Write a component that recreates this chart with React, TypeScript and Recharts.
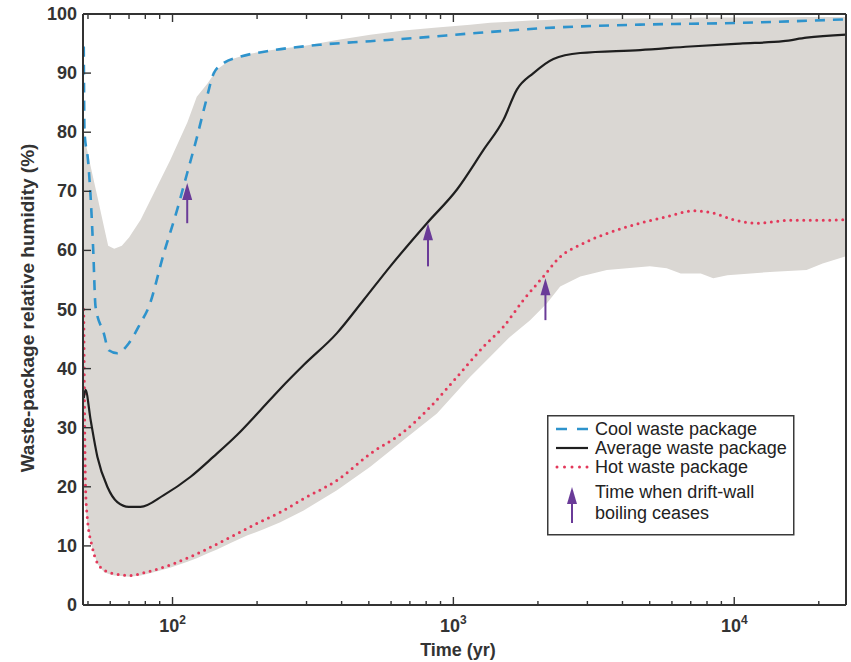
import React from 'react';
import {
  Area,
  ComposedChart,
  Legend,
  Line,
  ReferenceDot,
  ReferenceLine,
  XAxis,
  YAxis,
} from 'recharts';

// time axis ticks (yr)
const majorTicks = [100, 1000, 10000];
const minorTicks = [50, 60, 70, 80, 90, 200, 300, 400, 500, 600, 700, 800, 900, 2000, 3000, 4000, 5000, 6000, 7000, 8000, 9000, 20000];
const rhTicks = [0, 10, 20, 30, 40, 50, 60, 70, 80, 90, 100];

// cool waste package
const coolTime = [48.3, 48.6, 50, 51.1, 52.2, 53.2, 56.9, 59.3, 63.6, 69.9, 76.9, 82.4, 93.1, 103.9, 112.8, 122.4, 131, 140.3, 152, 175, 217, 336, 506, 762, 1148, 2270, 4620, 10480, 25000];
const coolRH = [94.5, 80, 75.3, 69, 60, 50.5, 46, 43.1, 42.6, 44.3, 47.7, 50.5, 59.5, 66.9, 73.1, 79.3, 84.9, 90, 91.7, 92.8, 93.7, 94.8, 95.4, 96, 96.7, 97.7, 98.2, 98.5, 99.1];

// average waste package
const avgTime = [48.3, 49, 51.1, 54, 58.6, 63.6, 69.9, 76.9, 93.1, 116, 140, 170, 206, 242, 293, 385, 479, 596, 805, 1030, 1280, 1508, 1683, 1928, 2271, 2827, 4620, 6960, 10480, 14940, 18090, 25000];
const avgRH = [35, 36.4, 31.3, 25.1, 20, 17.4, 16.6, 16.6, 18.6, 21.7, 25.1, 28.8, 33, 36.6, 40.6, 46, 51.6, 57.3, 64.6, 70.3, 77, 82.1, 87.2, 90, 92.4, 93.4, 93.9, 94.5, 95, 95.4, 96, 96.5];

// hot waste package
const hotTime = [48.3, 49, 49.7, 51.8, 55.4, 61.8, 70.9, 81.3, 101, 129, 161, 200, 242, 293, 385, 506, 665, 827, 1030, 1280, 1508, 1776, 2092, 2399, 2904, 4030, 5750, 7150, 8423, 9920, 12020, 15790, 20730, 25000];
const hotRH = [50, 20, 14.9, 9.8, 6.4, 5.3, 5, 5.6, 7, 9.2, 11.5, 13.8, 15.7, 18, 21.1, 25.6, 29.3, 33.5, 38.6, 43.7, 47.1, 51.6, 55.6, 58.9, 61.2, 63.8, 65.7, 66.7, 66.3, 65.2, 64.6, 65.1, 65.1, 65.2];

// range of all waste packages (shaded)
const bandTime = [48.3, 49, 50, 51, 52, 54, 57, 59, 62, 66, 70, 77, 85, 98, 113, 122, 133, 144, 161, 185, 211, 242, 293, 385, 506, 665, 874, 1148, 1352, 1593, 1876, 2150, 2400, 2830, 3520, 5010, 5750, 6450, 7600, 8420, 9450, 13850, 18090, 20640, 25000];
const bandHigh = [80, 78.3, 76.3, 74.4, 72.6, 69.1, 64, 60.8, 60.3, 60.8, 62.2, 65.2, 69.3, 75.2, 81.7, 86, 88.2, 90.6, 92.3, 93.2, 93.7, 94.1, 94.6, 95.6, 96.5, 97.2, 97.7, 98.2, 98.5, 98.7, 98.9, 99, 99.1, 99.2, 99.2, 99.3, 99.3, 99.3, 99.4, 99.4, 99.4, 99.4, 99.5, 99.5, 99.5];
const bandLow = [18, 16.5, 13, 10.8, 9.4, 7.0, 5.6, 5.3, 5.0, 4.9, 4.8, 5.0, 5.5, 6.3, 7.3, 7.9, 8.7, 9.4, 10.5, 11.8, 12.8, 14, 16, 19.4, 23.4, 27.9, 32.4, 38.6, 42, 45.4, 48.2, 51, 53.9, 55.6, 56.7, 57.3, 57, 56.1, 56.1, 55.3, 55.8, 56.4, 56.7, 57.8, 59];

// drift-wall boiling ceases
const arrowTime = [112.8, 812, 2127];
const arrowBase = [64.6, 57.3, 48.2];
const arrowTip = [71.4, 64.6, 55.3];

const FONT = '"Liberation Sans", Arial, Helvetica, sans-serif';
const INK = '#333';
const COOL = '#2e93cc';
const AVG = '#1f1f1f';
const HOT = '#e3385a';
const ARROW = '#6a3b98';
const BAND = '#dad7d3';

const allTicks = [...minorTicks, ...majorTicks].sort((a, b) => a - b);

function BottomTick({ x, y, payload }: any) {
  const major = majorTicks.includes(payload.value);
  const exp = Math.round(Math.log10(payload.value));
  return (
    <g>
      <line x1={x} x2={x} y1={y} y2={y - (major ? 8 : 4)} stroke={INK} strokeWidth={1.4} />
      {major && (
        <text x={x} y={y + 27} textAnchor="middle" fontSize={18} fontWeight="bold" fill={INK} fontFamily={FONT}>
          10<tspan dy={-8} fontSize={12}>{exp}</tspan>
        </text>
      )}
    </g>
  );
}

function TopTick({ x, y, payload }: any) {
  const major = majorTicks.includes(payload.value);
  return <line x1={x} x2={x} y1={y} y2={y + (major ? 8 : 5)} stroke={INK} strokeWidth={1.4} />;
}

function LeftTick({ x, y, payload }: any) {
  return (
    <g>
      <line x1={x} x2={x + 8} y1={y} y2={y} stroke={INK} strokeWidth={1.4} />
      <text x={x - 6} y={y} textAnchor="end" dominantBaseline="central" fontSize={18} fontWeight="bold" fill={INK} fontFamily={FONT}>
        {payload.value}
      </text>
    </g>
  );
}

function RightTick({ x, y }: any) {
  return <line x1={x} x2={x - 8} y1={y} y2={y} stroke={INK} strokeWidth={1.4} />;
}

function ArrowHead({ cx, cy }: any) {
  return <path d={`M${cx},${cy} L${cx - 5},${cy + 17} L${cx + 5},${cy + 17} Z`} fill={ARROW} />;
}

function LegendBox() {
  const txt = { fontSize: 18, fill: '#222', fontFamily: FONT, dominantBaseline: 'central' as const };
  return (
    <svg width={248} height={121} style={{ display: 'block' }}>
      <rect x={0.75} y={0.75} width={246} height={119} fill="#fff" stroke="#3a3a3a" strokeWidth={1.5} />
      <line x1={9} x2={41} y1={14} y2={14} stroke={COOL} strokeWidth={2.5} strokeDasharray="11 10" />
      <text x={48} y={14} {...txt}>Cool waste package</text>
      <line x1={9} x2={41} y1={33} y2={33} stroke={AVG} strokeWidth={2.2} />
      <text x={48} y={33} {...txt}>Average waste package</text>
      <line x1={10} x2={41} y1={52} y2={52} stroke={HOT} strokeWidth={3} strokeDasharray="0 7.5" strokeLinecap="round" />
      <text x={48} y={52} {...txt}>Hot waste package</text>
      <line x1={25} x2={25} y1={108} y2={85} stroke={ARROW} strokeWidth={2} />
      <path d="M25,72 L20,89 L30,89 Z" fill={ARROW} />
      <text x={48} y={77} {...txt}>Time when drift-wall</text>
      <text x={48} y={98} {...txt}>boiling ceases</text>
    </svg>
  );
}

export default function App() {
  const band = bandTime.map((t, i) => ({ t, range: [bandLow[i], bandHigh[i]] }));
  const cool = coolTime.map((t, i) => ({ t, v: coolRH[i] }));
  const avg = avgTime.map((t, i) => ({ t, v: avgRH[i] }));
  const hot = hotTime.map((t, i) => ({ t, v: hotRH[i] }));

  return (
    <div style={{ position: 'absolute', left: 0, top: 0, background: '#fff' }}>
      <ComposedChart width={851} height={662} margin={{ top: 0, right: 0, bottom: 0, left: 0 }} style={{ fontFamily: FONT }}>
        <XAxis
          dataKey="t"
          type="number"
          scale="log"
          domain={[48, 25000]}
          allowDataOverflow
          ticks={allTicks}
          interval={0}
          tickSize={0}
          tickMargin={0}
          tickLine={false}
          tick={BottomTick}
          height={57}
          axisLine={{ stroke: INK, strokeWidth: 2 }}
          label={() => (
            <text x={458} y={656} textAnchor="middle" fontSize={18} fontWeight="bold" fill={INK} fontFamily={FONT}>
              Time (yr)
            </text>
          )}
        />
        <XAxis
          xAxisId="top"
          orientation="top"
          dataKey="t"
          type="number"
          scale="log"
          domain={[48, 25000]}
          allowDataOverflow
          ticks={allTicks}
          interval={0}
          tickSize={0}
          tickMargin={0}
          tickLine={false}
          tick={TopTick}
          height={14}
          axisLine={{ stroke: INK, strokeWidth: 2 }}
        />
        <YAxis
          type="number"
          domain={[0, 100]}
          ticks={rhTicks}
          interval={0}
          tickSize={0}
          tickMargin={0}
          tickLine={false}
          tick={LeftTick}
          width={83}
          axisLine={{ stroke: INK, strokeWidth: 2 }}
          label={() => (
            <text
              x={27}
              y={308}
              transform="rotate(-90 27 308)"
              textAnchor="middle"
              dominantBaseline="central"
              fontSize={19}
              fontWeight="bold"
              fill={INK}
              fontFamily={FONT}
            >
              Waste-package relative humidity (%)
            </text>
          )}
        />
        <YAxis
          yAxisId="right"
          orientation="right"
          type="number"
          domain={[0, 100]}
          ticks={rhTicks}
          interval={0}
          tickSize={0}
          tickMargin={0}
          tickLine={false}
          tick={RightTick}
          width={5}
          axisLine={{ stroke: INK, strokeWidth: 2 }}
        />
        <Area data={band} dataKey="range" type="linear" fill={BAND} fillOpacity={1} stroke="none" isAnimationActive={false} />
        <Line data={hot} dataKey="v" type="monotoneX" stroke={HOT} strokeWidth={3} strokeDasharray="0 6.5" strokeLinecap="round" dot={false} isAnimationActive={false} />
        <Line data={avg} dataKey="v" type="monotoneX" stroke={AVG} strokeWidth={2.2} dot={false} isAnimationActive={false} />
        <Line data={cool} dataKey="v" type="monotoneX" stroke={COOL} strokeWidth={2.6} strokeDasharray="10 8" dot={false} isAnimationActive={false} />
        {arrowTime.map((t, i) => (
          <ReferenceLine
            key={`s${i}`}
            segment={[{ x: t, y: arrowBase[i] }, { x: t, y: arrowTip[i] - 1 }]}
            stroke={ARROW}
            strokeWidth={2}
          />
        ))}
        {arrowTime.map((t, i) => (
          <ReferenceDot key={`h${i}`} x={t} y={arrowTip[i]} r={5} shape={ArrowHead} />
        ))}
        <Legend
          layout="vertical"
          align="center"
          verticalAlign="middle"
          content={LegendBox}
          wrapperStyle={{ left: 547, top: 415, width: 248, height: 121 }}
        />
      </ComposedChart>
    </div>
  );
}
